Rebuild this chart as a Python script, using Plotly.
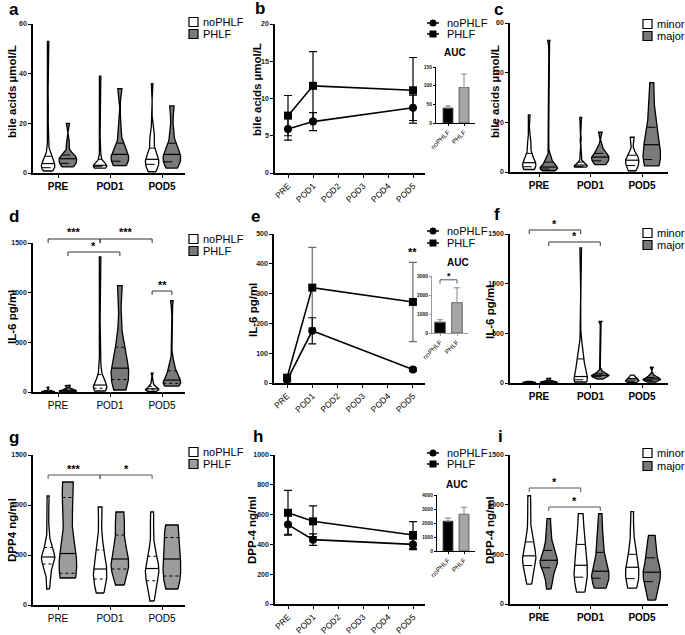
import numpy as np
import plotly.graph_objects as go

W, H = 685, 635
FONT = "Arial, Liberation Sans, sans-serif"

days3 = ["PRE", "POD1", "POD5"]
days6 = ["PRE", "POD1", "POD2", "POD3", "POD4", "POD5"]
measured_idx = [0, 1, 5]
auc_groups = ["noPHLF", "PHLF"]

# ---------- panel a: bile acids, noPHLF vs PHLF (raw values per day) ----------
a_noPHLF = [[0.8, 1.2, 1.5, 2, 2, 2.5, 3, 3.3, 3.6, 4, 4.5, 5, 6, 7, 8, 12, 24, 53],
            [2, 2, 2.2, 2.4, 2.6, 2.8, 3, 3, 3.2, 3.5, 4, 5, 7, 10, 22, 39],
            [0.5, 1, 2, 3, 3.5, 4, 4.5, 5, 5.5, 6, 7, 8, 10, 14, 15, 16, 36]]
a_PHLF = [[2.5, 3, 3.5, 4, 5, 5.5, 6, 6.5, 7, 8, 12, 20],
          [3, 3.5, 4, 4.5, 5, 6, 7, 7.5, 8, 9, 10, 14, 20, 33, 34],
          [2, 3, 3.5, 4, 5, 6, 7, 7.5, 8, 9, 10, 14, 18, 26, 27]]

# ---------- panel b: bile acids mean +/- SEM ----------
b_noPHLF_mean = [5.9, 6.9, 8.75]
b_noPHLF_sem = [1.5, 1.2, 1.7]
b_PHLF_mean = [7.7, 11.7, 11.1]
b_PHLF_sem = [2.7, 4.6, 4.4]
b_auc_mean = [40, 95]
b_auc_err = [6, 36]

# ---------- panel c: bile acids, minor vs major ----------
c_minor = [[1, 1.5, 2, 2, 2.5, 3, 3.5, 4, 5, 6, 8, 12, 13, 23],
           [2, 2, 2, 2.2, 2.5, 2.5, 2.8, 3, 3.5, 4, 6, 13, 22],
           [0.5, 1, 2, 2.5, 3, 4, 4.5, 5, 5.5, 6, 7, 8, 13, 14]]
c_major = [[0.5, 1, 1, 1.2, 1.5, 1.8, 2, 2.5, 3, 4, 5, 6, 53],
           [3, 3.5, 4, 5, 5.5, 6, 6.5, 7, 8, 10, 16],
           [2.5, 3, 4, 5, 6, 8, 11, 13, 15, 18, 22, 30, 36]]

# ---------- panel d: IL-6, noPHLF vs PHLF ----------
d_noPHLF = [[0, 1, 2, 3, 4, 5, 6, 8, 10, 15, 50],
            [10, 20, 30, 35, 40, 50, 60, 70, 80, 100, 150, 200, 330, 950, 1360],
            [5, 10, 15, 20, 25, 28, 30, 35, 40, 50, 60, 80, 120, 190]]
d_PHLF = [[2, 5, 8, 10, 12, 15, 20, 30, 60, 70],
          [20, 50, 75, 100, 150, 200, 230, 240, 300, 355, 400, 500, 700, 1050, 1070],
          [60, 70, 80, 90, 100, 110, 130, 160, 200, 250, 300, 920]]

# ---------- panel e: IL-6 mean +/- SEM ----------
e_noPHLF_mean = [10, 175, 45]
e_noPHLF_sem = [4, 44, 5]
e_PHLF_mean = [18, 320, 272]
e_PHLF_sem = [8, 135, 133]
e_auc_mean = [570, 1600]
e_auc_err = [130, 780]

# ---------- panel f: IL-6, minor vs major ----------
f_minor = [[1, 2, 3, 4, 5, 6, 8, 10, 12, 15],
           [10, 15, 25, 30, 40, 50, 60, 70, 150, 220, 250, 300, 350, 1360],
           [5, 10, 15, 20, 25, 30, 35, 40, 50, 60, 80]]
f_major = [[2, 4, 5, 6, 8, 10, 15, 20, 40, 50],
           [40, 55, 60, 65, 70, 75, 80, 85, 90, 100, 120, 620],
           [10, 20, 25, 30, 35, 40, 45, 50, 60, 80, 160]]

# ---------- panel g: DPP4, noPHLF vs PHLF ----------
g_noPHLF = [[160, 250, 350, 400, 420, 450, 470, 480, 490, 520, 550, 600, 700, 900, 1090],
            [120, 150, 200, 240, 280, 320, 350, 360, 400, 450, 500, 600, 700, 950, 980],
            [40, 150, 200, 230, 280, 330, 360, 370, 400, 450, 500, 600, 800, 930]]
g_PHLF = [[270, 275, 280, 290, 400, 500, 510, 520, 700, 1000, 1100, 1200, 1220, 1230],
          [200, 300, 350, 360, 400, 450, 460, 500, 600, 700, 860, 900, 930],
          [160, 200, 260, 300, 400, 440, 480, 550, 650, 750, 780, 800]]

# ---------- panel h: DPP-4 mean +/- SEM ----------
h_noPHLF_mean = [533, 432, 400]
h_noPHLF_sem = [65, 38, 35]
h_PHLF_mean = [612, 555, 463]
h_PHLF_sem = [150, 103, 90]
h_auc_mean = [2130, 2620]
h_auc_err = [230, 500]

# ---------- panel i: DPP-4, minor vs major ----------
i_minor = [[200, 300, 350, 400, 450, 480, 490, 550, 600, 700, 900, 1090],
           [120, 180, 240, 300, 350, 390, 450, 550, 650, 800, 910],
           [160, 200, 230, 280, 330, 370, 400, 450, 550, 700, 930]]
i_major = [[150, 250, 350, 370, 400, 430, 450, 480, 520, 600, 700, 860],
           [160, 200, 240, 280, 300, 330, 380, 450, 590, 700, 910],
           [40, 100, 200, 250, 300, 320, 350, 400, 530, 600, 690]]


def fx(p):
    return p / W


def fy(p):
    return 1 - p / H


fig = go.Figure()
layout = dict(width=W, height=H, margin=dict(l=0, r=0, t=0, b=0, autoexpand=False),
              paper_bgcolor="white", plot_bgcolor="white", showlegend=False,
              font=dict(family=FONT, color="black"), template="none")
shapes = []
annos = []


def axn(n):
    return ("x" if n == 1 else f"x{n}"), ("y" if n == 1 else f"y{n}")


def add_axes(n, xpx, ypx, xrange, yrange, dtick, tickvals, ticktext, xfont,
             xangle=0, yfont=7, lcolor="black", lw=1.5, tl=3):
    xa, ya = axn(n)
    key = "" if n == 1 else str(n)
    layout["xaxis" + key] = dict(domain=[fx(xpx[0]), fx(xpx[1])], anchor=ya, range=xrange,
                                 tickmode="array", tickvals=tickvals, ticktext=ticktext,
                                 ticks="outside", ticklen=tl, tickwidth=1.2, tickcolor=lcolor,
                                 showline=True, linecolor=lcolor, linewidth=lw,
                                 showgrid=False, zeroline=False, tickfont=xfont,
                                 tickangle=xangle, fixedrange=True, automargin=False)
    layout["yaxis" + key] = dict(domain=[fy(ypx[1]), fy(ypx[0])], anchor=xa, range=yrange,
                                 tick0=0, dtick=dtick, ticks="outside", ticklen=tl,
                                 tickwidth=1.2, tickcolor=lcolor, showline=True,
                                 linecolor=lcolor, linewidth=lw, showgrid=False,
                                 zeroline=False, fixedrange=True, automargin=False,
                                 tickfont=dict(size=yfont, weight="bold", color="#222"))


def violin(samples, center, halfw, fill, n, qdash):
    xa, ya = axn(n)
    s = np.sort(np.asarray(samples, float))
    m = len(s)
    q1, med, q3 = np.percentile(s, [25, 50, 75])
    sd = s.std(ddof=1)
    iqr = q3 - q1
    spread = min(sd, iqr / 1.34) if iqr > 0 else sd
    bw = 0.9 * spread * m ** -0.2
    grid = np.linspace(s[0], s[-1], 400)
    dens = np.exp(-0.5 * ((grid[:, None] - s[None, :]) / bw) ** 2).sum(1)
    dens = dens / dens.max() * halfw
    xs = np.concatenate([center + dens, (center - dens)[::-1], [center + dens[0]]])
    ys = np.concatenate([grid, grid[::-1], [grid[0]]])
    fig.add_trace(go.Scatter(x=xs, y=ys, mode="lines", fill="toself", fillcolor=fill,
                             line=dict(color="black", width=1.3), xaxis=xa, yaxis=ya,
                             hoverinfo="skip"))
    dm = np.interp(med, grid, dens)
    fig.add_trace(go.Scatter(x=[center - dm, center + dm], y=[med, med], mode="lines",
                             line=dict(color="black", width=1.2), xaxis=xa, yaxis=ya,
                             hoverinfo="skip"))
    qx, qy = [], []
    for q in (q1, q3):
        d = np.interp(q, grid, dens)
        qx += [center - d, center + d, None]
        qy += [q, q, None]
    fig.add_trace(go.Scatter(x=qx, y=qy, mode="lines",
                             line=dict(color="black", width=1, dash=qdash),
                             xaxis=xa, yaxis=ya, hoverinfo="skip"))


def bracket(n, x0, x1, ypx, text, typx, drop=4, color="#333", data_y=False):
    xa, ya = axn(n)
    if data_y:
        y0, yb = ypx
        shapes.append(dict(type="path", xref=xa, yref=ya,
                           path=f"M {x0},{yb} L {x0},{y0} L {x1},{y0} L {x1},{yb}",
                           line=dict(color=color, width=1)))
        annos.append(dict(xref=xa, yref=ya, x=(x0 + x1) / 2, y=typx, text=text,
                          showarrow=False, font=dict(size=9, weight="bold")))
        return
    shapes.append(dict(type="path", xref=xa, yref="paper",
                       path=f"M {x0},{fy(ypx + drop)} L {x0},{fy(ypx)} L {x1},{fy(ypx)} L {x1},{fy(ypx + drop)}",
                       line=dict(color=color, width=1)))
    annos.append(dict(xref=xa, yref="paper", x=(x0 + x1) / 2, y=fy(typx), text=text,
                      showarrow=False, yanchor="middle", font=dict(size=11, weight="bold")))


def text(xp, yp, t, size=11, bold=False, angle=0, xanchor="center", color="black"):
    annos.append(dict(xref="paper", yref="paper", x=fx(xp), y=fy(yp), text=t,
                      showarrow=False, textangle=angle, xanchor=xanchor, yanchor="middle",
                      font=dict(size=size, weight="bold" if bold else "normal", color=color)))


def box_legend(xbox, rows, labels, fills):
    for r, lab, f in zip(rows, labels, fills):
        shapes.append(dict(type="rect", xref="paper", yref="paper",
                           x0=fx(xbox), x1=fx(xbox + 9), y0=fy(r + 4.5), y1=fy(r - 4.5),
                           fillcolor=f, line=dict(color="black", width=1.2)))
        text(xbox + 12, r, lab, size=11, xanchor="left")


def line_legend(xc, rows, labels):
    for k, (r, lab) in enumerate(zip(rows, labels)):
        shapes.append(dict(type="line", xref="paper", yref="paper", x0=fx(xc - 6),
                           x1=fx(xc + 6), y0=fy(r), y1=fy(r), line=dict(color="black", width=1.5)))
        shapes.append(dict(type="circle" if k == 0 else "rect", xref="paper", yref="paper",
                           x0=fx(xc - 3.5), x1=fx(xc + 3.5), y0=fy(r + 3.5), y1=fy(r - 3.5),
                           fillcolor="black", line=dict(color="black", width=0)))
        text(xc + 12, r, lab, size=11, xanchor="left")


# ---------------- violin panels ----------------
GRAY = "#7a7a7a"
OFF = 0.19
HW_W, HW_G = 0.13, 0.17
bold10 = dict(size=10, weight="bold")
reg10 = dict(size=10)

left_range = [(33 - 58) / 52, (185 - 58) / 52]
right_range = [(510 - 539) / 51.5, (668 - 539) / 51.5]

vpanels = [
    # n, xpx, ypx, xrange, ymax, dtick, data1, data2, gray, xfont, quartile dash
    (1, (33, 185), (24, 173), left_range, 60, 20, a_noPHLF, a_PHLF, GRAY, bold10, "dash"),
    (3, (510, 668), (23, 172), right_range, 60, 20, c_minor, c_major, GRAY, bold10, "dash"),
    (4, (33, 185), (243, 392), left_range, 1500, 500, d_noPHLF, d_PHLF, GRAY, reg10, "dot"),
    (6, (510, 668), (234, 383), right_range, 1500, 500, f_minor, f_major, GRAY, bold10, "dash"),
    (7, (33, 185), (455, 605), left_range, 1500, 500, g_noPHLF, g_PHLF, "#9c9c9c", reg10, "dot"),
    (9, (510, 668), (455, 604), right_range, 1500, 500, i_minor, i_major, GRAY, bold10, "dash"),
]
for n, xpx, ypx, xr, ymax, dt, d1, d2, gcol, xf, qd in vpanels:
    add_axes(n, xpx, ypx, xr, [0, ymax], dt, [0, 1, 2], days3, xf)
    for k in range(3):
        violin(d1[k], k - OFF, HW_W, "white", n, qd)
        violin(d2[k], k + OFF, HW_G, gcol, n, qd)

# ---------------- line panels ----------------
line_range = [(275 - 288) / 25, (425 - 288) / 25]
lpanels = [
    (2, (275, 425), (24, 173), 20, 5, b_noPHLF_mean, b_noPHLF_sem, b_PHLF_mean, b_PHLF_sem, "black"),
    (5, (274, 425), (234, 383), 500, 100, e_noPHLF_mean, e_noPHLF_sem, e_PHLF_mean, e_PHLF_sem, "#6a6a6a"),
    (8, (275, 425), (455, 604), 1000, 200, h_noPHLF_mean, h_noPHLF_sem, h_PHLF_mean, h_PHLF_sem, "black"),
]
for n, xpx, ypx, ymax, dt, m1, s1, m2, s2, ecol in lpanels:
    add_axes(n, xpx, ypx, line_range, [0, ymax], dt, list(range(6)), days6,
             dict(size=8.5), xangle=-45)
    xa, ya = axn(n)
    fig.add_trace(go.Scatter(x=measured_idx, y=m2, mode="lines+markers", xaxis=xa, yaxis=ya,
                             line=dict(color="black", width=1.6),
                             marker=dict(symbol="square", size=8, color="black"),
                             error_y=dict(type="data", array=s2, visible=True, thickness=1.2,
                                          width=4, color=ecol), hoverinfo="skip"))
    fig.add_trace(go.Scatter(x=measured_idx, y=m1, mode="lines+markers", xaxis=xa, yaxis=ya,
                             line=dict(color="black", width=1.6),
                             marker=dict(symbol="circle", size=8, color="black"),
                             error_y=dict(type="data", array=s1, visible=True, thickness=1.2,
                                          width=4, color="black"), hoverinfo="skip"))

# ---------------- AUC insets ----------------
ipanels = [
    (10, (436, 475), (67, 123), [(436 - 448) / 16, (475 - 448) / 16], 150, 50, b_auc_mean, b_auc_err, "black"),
    (11, (432, 468), (276, 333), [(432 - 440) / 17, (468 - 440) / 17], 3000, 1000, e_auc_mean, e_auc_err, "#999999"),
    (12, (437, 475), (495, 551), [(437 - 448) / 16, (475 - 448) / 16], 4000, 1000, h_auc_mean, h_auc_err, "black"),
]
for n, xpx, ypx, xr, ymax, dt, mv, ev, lc in ipanels:
    add_axes(n, xpx, ypx, xr, [0, ymax], dt, [0, 1], auc_groups, dict(size=6.5),
             xangle=-45, yfont=5, lcolor=lc, lw=1, tl=2)
    xa, ya = axn(n)
    fig.add_trace(go.Bar(x=[0, 1], y=mv, width=0.62, xaxis=xa, yaxis=ya,
                         marker=dict(color=["black", "#a6a6a6"], line=dict(color="#444", width=0.8)),
                         error_y=dict(type="data", array=ev, arrayminus=[0, 0], symmetric=False,
                                      visible=True, thickness=1, width=3, color="#888"),
                         hoverinfo="skip"))

# ---------------- brackets / significance ----------------
bracket(4, 0 - OFF, 1 - OFF, 239, "***", 232)
bracket(4, 1 - OFF, 2 - OFF, 239, "***", 232)
bracket(4, 0 + OFF, 1 + OFF, 252, "*", 246)
bracket(4, 2 - OFF, 2 + OFF, 291, "**", 285)
bracket(6, 0 - OFF, 1 - OFF, 230, "*", 224)
bracket(6, 0 + OFF, 1 + OFF, 242, "*", 236)
bracket(7, 0 - OFF, 1 - OFF, 475, "***", 469, color="#555")
bracket(7, 1 - OFF, 2 - OFF, 475, "*", 469, color="#555")
bracket(9, 0 - OFF, 1 - OFF, 488, "*", 482, color="#555")
bracket(9, 0 + OFF, 1 + OFF, 507, "*", 501, color="#555")
bracket(11, 0, 1, (2800, 2600), "*", 2980, data_y=True, color="#555")
annos.append(dict(xref="x5", yref="y5", x=5, y=440, text="**", showarrow=False,
                  font=dict(size=11, weight="bold")))

# ---------------- legends ----------------
box_legend(189, (22, 34), ["noPHLF", "PHLF"], ["white", GRAY])
box_legend(643, (24, 36), ["minor", "major"], ["white", GRAY])
box_legend(189, (239, 251), ["noPHLF", "PHLF"], ["white", GRAY])
box_legend(643, (233, 245), ["minor", "major"], ["white", GRAY])
box_legend(189, (452, 464), ["noPHLF", "PHLF"], ["white", "#9c9c9c"])
box_legend(643, (453, 466), ["minor", "major"], ["white", GRAY])
line_legend(433, (23, 34), ["noPHLF", "PHLF"])
line_legend(433, (231, 243), ["noPHLF", "PHLF"])
line_legend(433, (453, 464), ["noPHLF", "PHLF"])

text(455, 53, "AUC", size=10, bold=True)
text(458, 262, "AUC", size=10, bold=True)
text(457, 484, "AUC", size=10, bold=True)

# ---------------- axis titles ----------------
text(12, 92, "bile acids µmol/L", size=11.5, bold=True, angle=-90)
text(257, 90, "bile acids µmol/L", size=11.5, bold=True, angle=-90)
text(495, 92, "bile acids µmol/L", size=11.5, bold=True, angle=-90)
text(12, 317, "IL-6 pg/ml", size=11.5, bold=True, angle=-90)
text(253, 310, "IL-6 pg/ml", size=11.5, bold=True, angle=-90)
text(490, 310, "IL-6 pg/mL", size=11.5, bold=True, angle=-90)
text(12, 530, "DPP4 ng/ml", size=11.5, bold=True, angle=-90)
text(252, 530, "DPP-4 ng/ml", size=11.5, bold=True, angle=-90)
text(490, 530, "DPP-4 ng/ml", size=11.5, bold=True, angle=-90)

# ---------------- panel letters ----------------
for lab, xp, yp in [("a", 14, 9), ("b", 260, 8), ("c", 498, 9), ("d", 14, 217), ("e", 256, 216),
                    ("f", 497, 214), ("g", 14, 437), ("h", 258, 436), ("i", 500, 436)]:
    text(xp, yp, lab, size=17, bold=True)

layout["shapes"] = shapes
layout["annotations"] = annos
fig.update_layout(**layout)
fig.write_html("out.html", config={"displayModeBar": False},
               post_script="document.body.style.margin='0';document.body.style.overflow='hidden';")
